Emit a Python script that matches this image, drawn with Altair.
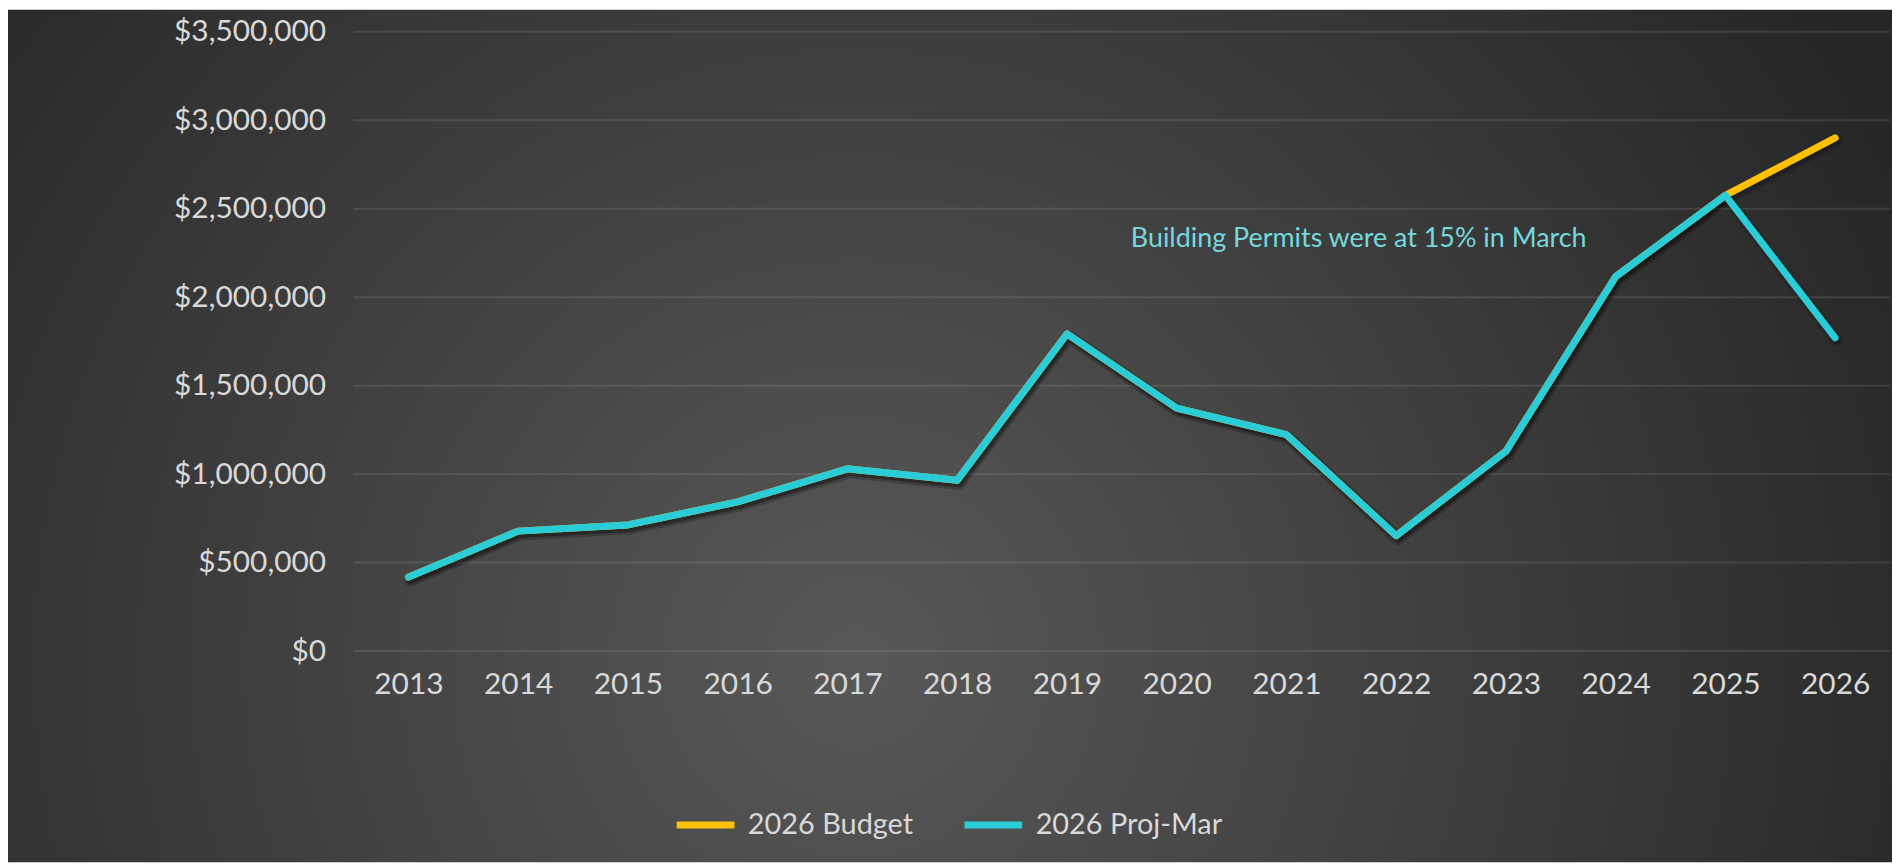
import altair as alt
import pandas as pd

# ---- data ----
years = [str(y) for y in range(2013, 2027)]
proj_mar = [418000, 678000, 713000, 843000, 1030000, 965000, 1792000,
            1373000, 1223000, 652000, 1129000, 2116000, 2575000, 1770000]
budget = [418000, 678000, 713000, 843000, 1030000, 965000, 1792000,
          1373000, 1223000, 652000, 1129000, 2116000, 2575000, 2900000]
y_ticks = [0, 500000, 1000000, 1500000, 2000000, 2500000, 3000000, 3500000]
series_names = ["2026 Budget", "2026 Proj-Mar"]
series_colors = ["#FFC000", "#29CCD7"]
note_text = ["Building Permits were at 15% in March"]
note_year = ["2020"]
note_value = [2330000]

# ---- layout ----
W, H = 1543, 622
PAD_L, PAD_T, PAD_R, PAD_B = 347, 22, 2, 212
FONT = "Lato"
LABEL_COLOR = "#D9D9D9"

df_b = pd.DataFrame({"year": years, "value": budget, "series": series_names[0]})
df_p = pd.DataFrame({"year": years, "value": proj_mar, "series": series_names[1]})
df_ticks = pd.DataFrame({"value": y_ticks})
df_note = pd.DataFrame({"year": note_year, "value": note_value, "label": note_text})

x_scale = alt.Scale(type="point", padding=0.5, domain=years)
y_scale = alt.Scale(domain=[0, 3500000], nice=False, zero=True)
color_scale = alt.Scale(domain=series_names, range=series_colors)

x_axis = alt.Axis(labelAngle=0, labelFont=FONT, labelFontSize=30, labelColor=LABEL_COLOR,
                  labelPadding=19, ticks=False, domain=False, grid=False, title=None, zindex=1)
y_axis = alt.Axis(values=y_ticks, format="$,.0f", labelFont=FONT, labelFontSize=30,
                  labelColor=LABEL_COLOR, labelPadding=28, ticks=False, domain=False,
                  grid=False, title=None, zindex=1)

legend = alt.Legend(orient="none", legendX=321, legendY=764, direction="horizontal",
                    title=None, symbolType="stroke", symbolStrokeWidth=7, symbolSize=3364,
                    labelFont=FONT, labelFontSize=29, labelColor=LABEL_COLOR, labelLimit=0,
                    labelOffset=10, columnPadding=36, zindex=1)

X = alt.X("year:O", scale=x_scale, axis=x_axis)
Y = alt.Y("value:Q", scale=y_scale, axis=y_axis)

gradient = alt.RadialGradient(
    gradient="radial",
    x1=0.45, y1=0.62, r1=0.0,
    x2=0.45, y2=0.62, r2=0.62,
    stops=[alt.GradientStop(offset=0, color="#585858"),
           alt.GradientStop(offset=1, color="#262626")],
)

bg = alt.Chart(pd.DataFrame({"a": [0]})).mark_rect(fill=gradient, strokeWidth=0).encode(
    x=alt.value(-PAD_L), x2=alt.value(W + PAD_R),
    y=alt.value(-PAD_T), y2=alt.value(H + PAD_B),
)

grid = alt.Chart(df_ticks).mark_rule(color="#ffffff", opacity=0.1, strokeWidth=2).encode(
    y=Y, x=alt.value(0), x2=alt.value(W)
)

def shadow(df, width, opacity):
    return alt.Chart(df).mark_line(color="#000000", opacity=opacity, strokeWidth=width,
                                   strokeCap="round", strokeJoin="round",
                                   xOffset=2, yOffset=3).encode(x=X, y=Y)

def line(df):
    return alt.Chart(df).mark_line(strokeWidth=7, strokeCap="round", strokeJoin="round").encode(
        x=X, y=Y, color=alt.Color("series:N", scale=color_scale, legend=legend)
    )

note = alt.Chart(df_note).mark_text(font=FONT, fontSize=27, color="#74D9DE", align="left",
                                    baseline="middle", dx=-46).encode(
    x=X, y=Y, text="label:N"
)

chart = alt.layer(
    bg, grid,
    shadow(df_b, 13, 0.10), shadow(df_p, 13, 0.10),
    shadow(df_b, 8, 0.18), shadow(df_p, 8, 0.18),
    line(df_b), line(df_p), note
).properties(
    width=W, height=H,
    autosize=alt.AutoSizeParams(type="none"),
    padding={"left": PAD_L, "top": PAD_T, "right": PAD_R, "bottom": PAD_B},
).configure_view(stroke=None)

chart.save("out.html", embed_options={"renderer": "svg", "actions": False})
